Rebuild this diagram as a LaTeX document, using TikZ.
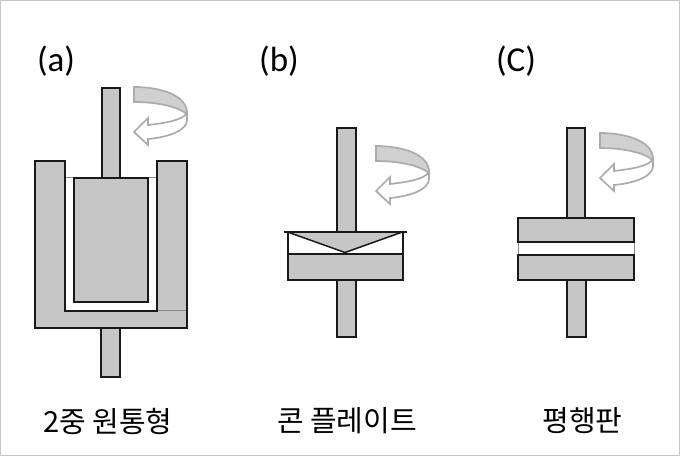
\documentclass[tikz,border=0pt]{standalone}
\usepackage{fontspec}
\setmainfont{Noto Sans CJK KR}
\newfontfamily\latinlab{Carlito}
\definecolor{fillg}{HTML}{C6C6C6}
\definecolor{arrowg}{HTML}{ABABAB}
\definecolor{bandg}{HTML}{D0D0D0}
\definecolor{frameg}{HTML}{C8C8C8}
\tikzset{
  partbox/.style={draw=black!90,line width=1.5pt,fill=fillg},
  gapbox/.style={draw=black!90,line width=1.5pt,fill=white},
  faintline/.style={draw=black!45,line width=1pt},
  caselabel/.style={font=\latinlab\fontsize{35}{37}\selectfont,inner sep=0pt},
  korlabel/.style={font=\fontsize{29}{32}\selectfont,inner sep=0pt},
  rotband/.style={draw=arrowg,line width=1.7pt,fill=bandg},
  rotarrow/.style={draw=arrowg,line width=1.7pt,fill=white,line join=miter},
}
\newcommand{\rotsign}[2]{%
  \begin{scope}[shift={(#1,#2)}]
    \path[rotarrow] (187,113) .. controls (183,120) and (166,123) .. (148,125)
      -- (148,118) -- (134,132) -- (148,145) -- (148,139)
      .. controls (170,137) and (187,130) .. (187,120) -- cycle;
    \path[rotband] (134,87) .. controls (160,87) and (187,95) .. (187,113)
      -- (187,120) .. controls (187,115) and (187,113) .. (184,112)
      .. controls (175,106) and (155,102) .. (134,102) -- cycle;
  \end{scope}}
\begin{document}
\begin{tikzpicture}[x=1pt,y=-1pt]
\useasboundingbox (0,0) rectangle (680,456);
\fill[white] (0,0) rectangle (680,456);
\draw[frameg,line width=1.4pt] (0.6,0.6) rectangle (679.4,455.4);
% (a)
\draw[partbox] (102,88) rectangle (120,178);
\draw[partbox] (101,328) rectangle (120,377);
\path[fill=fillg] (35,161) -- (65,161) -- (65,311) -- (157,311) -- (157,161) -- (187,161) -- (187,328) -- (35,328) -- cycle;
\draw[black!90,line width=1.5pt] (35,328) -- (35,161) -- (65,161) -- (65,311) -- (157,311) -- (157,161) -- (187,161) -- (187,328) -- cycle;
\draw[faintline] (157.7,310.5) -- (186,310.5);
\draw[faintline] (65.7,177.5) -- (156.3,177.5);
\draw[partbox] (74,178) rectangle (148,302);
\rotsign{0}{0}
% (b)
\draw[partbox] (337,128) rectangle (356,232);
\draw[gapbox] (288,232) rectangle (403,254);
\path[fill=fillg] (288,232.5) -- (403,232.5) -- (345,252.5) -- cycle;
\draw[black!90,line width=1.5pt] (289,232.5) -- (345,252.5) -- (401,232.5);
\draw[black!90,line width=1.5pt] (284,232) -- (407,232);
\draw[partbox] (288,254) rectangle (403,280);
\draw[partbox] (337,280) rectangle (356,337);
\rotsign{242}{59}
% (c)
\draw[partbox] (567,128) rectangle (585,218);
\draw[faintline] (518,242) -- (518,255) (634,242) -- (634,255);
\draw[partbox] (518,218) rectangle (634,242);
\draw[partbox] (518,255) rectangle (634,280);
\draw[partbox] (567,280) rectangle (586,337);
\rotsign{466}{46}
% labels
\node[caselabel] (la) at (56,61) {(a)};
\node[caselabel] (lb) at (279,61) {(b)};
\node[caselabel] (lc) at (516,61) {(C)};
\node[korlabel] (ka) at (108,421) {2중 원통형};
\node[korlabel] (kb) at (347,421) {콘 플레이트};
\node[korlabel] (kc) at (582.5,421) {평행판};
\end{tikzpicture}
\end{document}
